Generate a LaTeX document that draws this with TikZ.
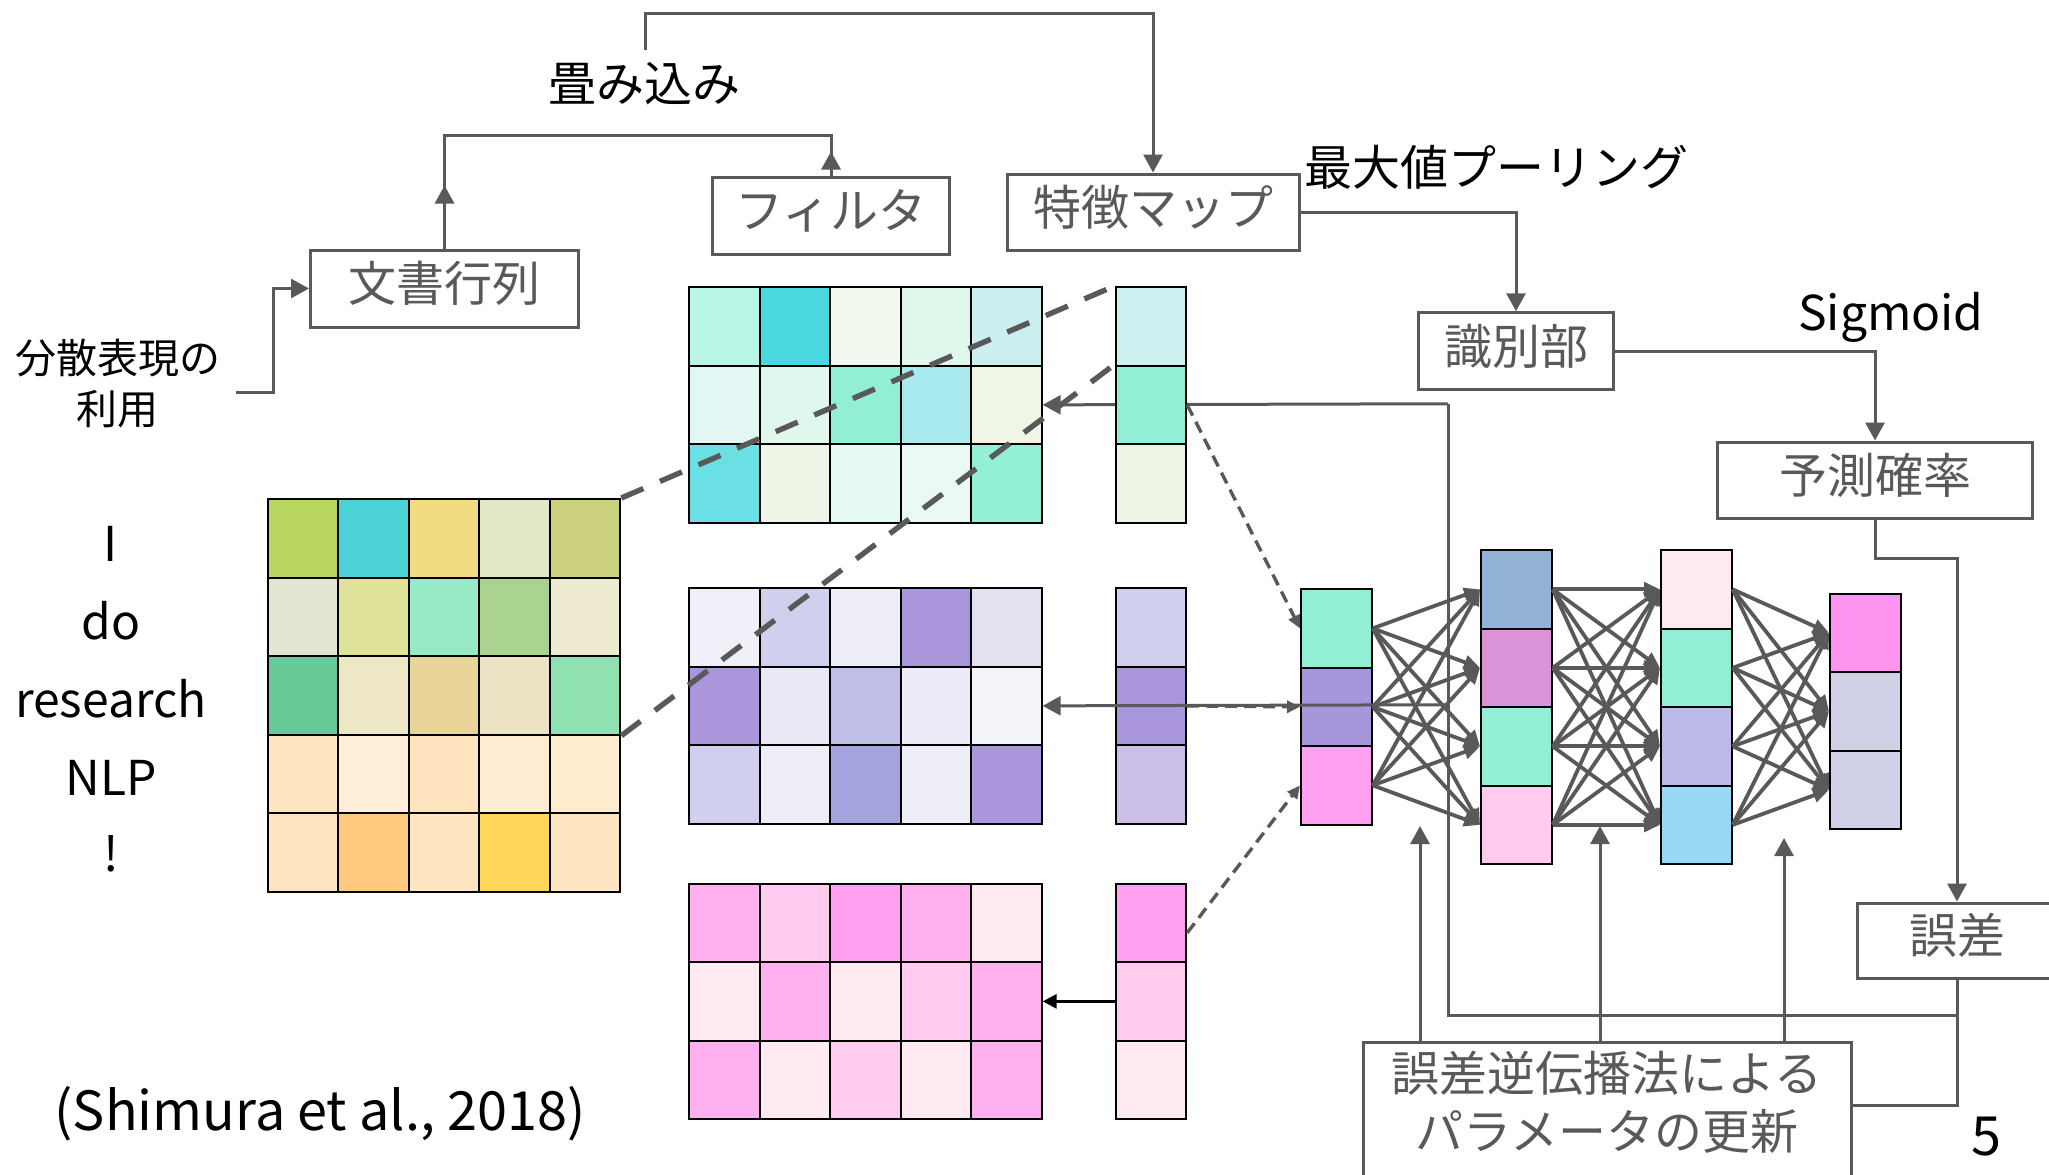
\documentclass[tikz,border=0pt]{standalone}
\usepackage{fontspec}
\setmainfont{Noto Sans CJK JP}
\usetikzlibrary{arrows.meta,calc}
\pgfdeclarelayer{bg}
\pgfsetlayers{bg,main}
\definecolor{cg}{HTML}{595959}
\newcommand\boxfont{\fontsize{24pt}{29pt}\selectfont}
\newcommand\latfont{\fontsize{24pt}{29pt}\selectfont}
\newcommand\citefont{\fontsize{27pt}{32pt}\selectfont}
\newcommand\smallfont{\fontsize{20.5pt}{25.5pt}\selectfont}
\tikzset{
  box/.style={draw=cg, line width=1.5pt, text=cg, font=\boxfont, inner sep=0pt, text height=21pt, text depth=8pt},
  lbl/.style={text=black, font=\boxfont, inner sep=0pt},
  latin/.style={text=black, font=\latfont, inner sep=0pt},
  conn/.style={draw=cg, line width=1.5pt},
  arr/.style={conn, -{Triangle[length=9pt,width=9.5pt]}},
  nn/.style={draw=cg, line width=1.9pt, -{Triangle[length=8pt,width=7pt]}},
  dsh/.style={draw=cg, line width=1.7pt, dash pattern=on 6pt off 3.5pt, -{Triangle[length=6.5pt,width=6pt]}},
  bigdash/.style={draw=cg, line width=2.7pt, dash pattern=on 12pt off 9pt},
  cell/.style={draw=black, line width=1.1pt, minimum width=35.25pt, minimum height=39.25pt, inner sep=0pt, anchor=north west},
}
\newcommand\cellgrid[4]{%
  \foreach \rowlist [count=\ri] in {#4} {
    \foreach \hx [count=\ci] in \rowlist {
      \definecolor{tmpc}{HTML}{\hx}
      \node[cell, fill=tmpc] (#1-\ri-\ci) at ({#2+(\ci-1)*70.5},{#3+(\ri-1)*78.5}) {};
    }
  }%
}
\begin{document}
\begin{tikzpicture}[x=0.5pt,y=-0.5pt]
\useasboundingbox (0,0) rectangle (2049,1174);
\clip (0,0) rectangle (2049,1174);

% ---------- boxes ----------
\node[box, minimum width=134pt, minimum height=38.5pt] (bunsho) at (444.5,288.5) {文書行列};
\node[box, minimum width=118.75pt, minimum height=38.5pt] (filter) at (831,215.5) {フィルタ};
\node[box, minimum width=146pt, minimum height=38pt] (fmap) at (1153,212) {特徴マップ};
\node[box, minimum width=97.75pt, minimum height=38.25pt] (shiki) at (1516,351) {識別部};
\node[box, minimum width=157.75pt, minimum height=38pt] (yosoku) at (1875,480) {予測確率};
\node[box, minimum width=100pt, minimum height=37.5pt] (gosa) at (1957,940.5) {誤差};
\node[box, minimum width=244pt, minimum height=80pt, anchor=north, text height=0pt, text depth=0pt] (upd) at (1607,1041) {};
\node[text=cg, font=\boxfont, align=center, inner sep=0pt] (updtext) at (1607,1102) {誤差逆伝播法による\\パラメータの更新};

% ---------- free labels ----------
\node[lbl] (tatami) at (644,84) {畳み込み};
\node[lbl] (pool) at (1496,167) {最大値プーリング};
\node[latin, anchor=base] (sigmoid) at (1891,330) {Sigmoid};
\node[text=black, font=\smallfont, align=center, inner sep=0pt] (bunsan) at (118,384) {分散表現の\\利用};
\node[latin, anchor=base] (w1) at (111,561) {I};
\node[latin, anchor=base] (w2) at (111,639) {do};
\node[latin, anchor=base] (w3) at (111,717) {research};
\node[latin, anchor=base] (w4) at (111,795) {NLP};
\node[latin, anchor=base] (w5) at (111,871) {!};
\node[text=black, font=\citefont, inner sep=0pt] (cite) at (320,1114) {(Shimura et al., 2018)};
\node[text=black, font=\citefont, inner sep=0pt] (pagenum) at (1986,1137) {5};

% ---------- matrices ----------
\cellgrid{d}{266.6}{498}{{B8D65E,4AD2D4,F2DC82,E1E8C6,CDD27E},{E1E6D2,DFE39A,98EAC6,A9D38F,EEEAD0},{69C999,EDE8C3,E8D498,ECE2C4,8FE2B0},{FFE5C2,FFEFDA,FFE4BF,FFEDD3,FFEBCD},{FFE4C0,FFCA7E,FFE5C2,FFD659,FFE6C2}}
\cellgrid{ga}{688}{286}{{B8F5E6,4AD8E0,F2F8EE,E0F7EC,CAEFEE},{E2F6F4,E0F7EE,93EED6,A8EAEE,EFF6E8},{6ADFE4,EDF6E6,E6F8F2,EBF9F6,93EFD6}}
\cellgrid{gb}{688}{587}{{F0F0F8,D0D0EE,EEEEF8,AA96DA,E1E1EF},{AA96DA,E8E8F6,BEBEE8,ECECF8,F2F4FA},{D0D0EE,EEEEF8,A4A4DE,EEEEF8,AA96DA}}
\cellgrid{gc}{688}{882.5}{{FFB0EE,FFCCF0,FFA0F0,FFB0EE,FFEAF2},{FFEAF2,FFB0EE,FFEAF2,FFCCF0,FFB0EE},{FFB0EE,FFEAF2,FFCCF0,FFEAF2,FFB0EE}}
\cellgrid{pa}{1114.5}{286}{{CAF0EF},{93EED6},{EDF6E6}}
\cellgrid{pb}{1114.5}{587}{{D0D0EE},{AA96DA},{CCC0E6}}
\cellgrid{pc}{1114.5}{882.5}{{FFA0F0},{FFCCF0},{FFEAF2}}
\cellgrid{in}{1300}{588}{{93EED6},{A896DA},{FFA0F0}}
\cellgrid{ha}{1480}{549}{{93B3D6},{DA93D6},{93EED6},{FFCCF0}}
\cellgrid{hb}{1660}{549}{{FFEAF0},{93EED6},{BCBAE8},{99D9F6}}
\cellgrid{out}{1829}{592.5}{{FF93F0},{D0D0E6},{D0D0E6}}

% ---------- connectors ----------
\coordinate (bunsanEnd) at (236,392);
\draw[arr] (bunsanEnd) -- (273,392) |- (bunsho.west);
\draw[conn] (bunsho.north) -- ++(0,-113) -| (filter.north);
\draw[arr] (bunsho.north) -- ++(0,-63);
\draw[arr] (filter.north) -- ++(0,-24);
\coordinate (tatamiTop) at (645.5,50);
\draw[arr] (tatamiTop) -- (645.5,13.5) -| (fmap.north);
\draw[arr] (fmap.east) -| (shiki.north);
\draw[arr] (shiki.east) -| (yosoku.north);
\draw[arr] (yosoku.south) -- ++(0,39) -| (gosa.north);
\draw[conn] (gosa.south) |- ($(upd.north east)+(0,64)$);

\coordinate (fbCorner) at (1448,1015.7);
\coordinate (fbMid) at (1448,704.75);
\begin{pgfonlayer}{bg}
  \draw[conn] (gosa.south |- fbCorner) -- (fbCorner) -- (1448,403.75);
  \draw[arr] (1448,403.75) -- (ga-2-5.east);
\end{pgfonlayer}

% dashed arrows from pooled vectors
\draw[dsh] (pa-2-1.east) -- (in-1-1.west);
\draw[dsh] (pb-2-1.east) -- (in-2-1.west);
\draw[dsh] ($(pc-1-1.east)+(0,10)$) -- (in-3-1.west);

\draw[arr] (fbMid) -- (gb-2-5.east);
\draw[-{Triangle[length=7pt,width=7pt]}, line width=1.5pt, black] (pc-2-1.west) -- (gc-2-5.east);

% update arrows
\draw[arr] ($(upd.north west)+(58.5,0)$) -- ++(0,-215);
\draw[arr] ($(upd.north west)+(238.5,0)$) -- ++(0,-215);
\draw[arr] ($(upd.north west)+(422.5,0)$) -- ++(0,-203);

% NN edges
\foreach \a in {1,2,3} \foreach \b in {1,...,4} \draw[nn] (in-\a-1.east) -- (ha-\b-1.west);
\foreach \a in {1,...,4} \foreach \b in {1,...,4} \draw[nn] (ha-\a-1.east) -- (hb-\b-1.west);
\foreach \a in {1,...,4} \foreach \b in {1,2,3} \draw[nn] (hb-\a-1.east) -- (out-\b-1.west);

% big dashed lines
\draw[bigdash] (d-1-5.north east) -- (pa-1-1.north west);
\draw[bigdash] (d-3-5.south east) -- (pa-2-1.north west);
\end{tikzpicture}
\end{document}
